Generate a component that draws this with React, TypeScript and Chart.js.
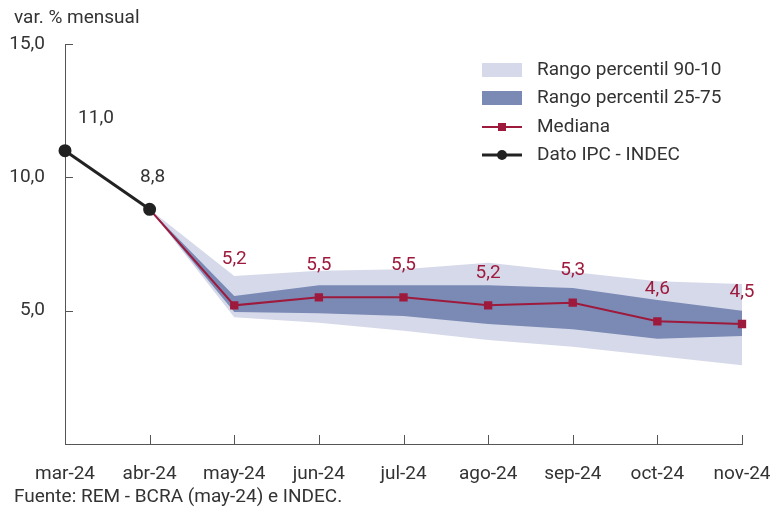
import React, { useEffect, useRef } from "react";
import { Chart, registerables } from "chart.js";

Chart.register(...registerables);

const categories = ["mar-24", "abr-24", "may-24", "jun-24", "jul-24", "ago-24", "sep-24", "oct-24", "nov-24"];
const datoIPC: (number | null)[] = [11.0, 8.8, null, null, null, null, null, null, null];
const mediana: (number | null)[] = [null, 8.8, 5.2, 5.5, 5.5, 5.2, 5.3, 4.6, 4.5];
const p90: (number | null)[] = [null, 8.8, 6.3, 6.5, 6.55, 6.8, 6.45, 6.1, 6.0];
const p75: (number | null)[] = [null, 8.8, 5.55, 5.95, 5.95, 5.95, 5.85, 5.4, 5.0];
const p25: (number | null)[] = [null, 8.8, 4.95, 4.9, 4.8, 4.5, 4.3, 3.95, 4.05];
const p10: (number | null)[] = [null, 8.8, 4.75, 4.55, 4.25, 3.9, 3.65, 3.3, 2.95];
const yTicks = [5, 10, 15];

const titleText = "var. % mensual";
const sourceText = "Fuente: REM - BCRA (may-24) e INDEC.";
const legendLabels = ["Rango percentil 90-10", "Rango percentil 25-75", "Mediana", "Dato IPC - INDEC"];

const RED = "#9e1a3c";
const DARK_BAND = "#7a8ab4";
const LIGHT_BAND = "#d6d9e9";
const TEXT = "#333333";
const AXIS = "#555555";
const FONT = "Roboto";
const FS = 19;

const fmt = (v: number) => v.toFixed(1).replace(".", ",");

const overlayPlugin = {
  id: "overlay",
  afterDraw(chart: any) {
    const ctx = chart.ctx;
    const area = chart.chartArea;
    const xs = chart.scales.x;
    const ys = chart.scales.y;
    ctx.save();
    // inward ticks
    ctx.strokeStyle = AXIS;
    ctx.lineWidth = 1;
    ctx.beginPath();
    yTicks.forEach((t) => {
      const y = Math.round(ys.getPixelForValue(t)) + 0.5;
      ctx.moveTo(area.left, y);
      ctx.lineTo(area.left + 8, y);
    });
    categories.forEach((_, i) => {
      if (i === 0) return;
      const x = Math.round(xs.getPixelForValue(i)) + 0.5;
      ctx.moveTo(x, area.bottom);
      ctx.lineTo(x, area.bottom - 9);
    });
    ctx.stroke();

    // title & source
    ctx.font = `${FS}px ${FONT}`;
    ctx.fillStyle = TEXT;
    ctx.textAlign = "left";
    ctx.textBaseline = "middle";
    ctx.fillText(titleText, 14, 18);
    ctx.fillText(sourceText, 14, 497);

    // data labels
    ctx.textAlign = "center";
    const metaIPC = chart.getDatasetMeta(0);
    datoIPC.forEach((v, i) => {
      if (v == null) return;
      const el = metaIPC.data[i];
      const dx = i === 0 ? 31 : 3;
      ctx.fillStyle = TEXT;
      ctx.fillText(fmt(v), el.x + dx, el.y - 32);
    });
    const metaMed = chart.getDatasetMeta(1);
    mediana.forEach((v, i) => {
      if (v == null || i < 2) return;
      const el = metaMed.data[i];
      const dy = i === 2 ? 46 : 32;
      ctx.fillStyle = RED;
      ctx.fillText(fmt(v), el.x, el.y - dy);
    });

    // legend
    const lx = 482;
    const tx = 537;
    const rows = [70, 98, 127, 155];
    ctx.textAlign = "left";
    ctx.fillStyle = LIGHT_BAND;
    ctx.fillRect(lx, rows[0] - 7, 40, 14);
    ctx.fillStyle = DARK_BAND;
    ctx.fillRect(lx, rows[1] - 7, 40, 14);
    ctx.strokeStyle = RED;
    ctx.lineWidth = 2;
    ctx.beginPath();
    ctx.moveTo(lx, rows[2]);
    ctx.lineTo(lx + 40, rows[2]);
    ctx.stroke();
    ctx.fillStyle = RED;
    ctx.fillRect(lx + 20 - 4, rows[2] - 4, 8, 8);
    ctx.strokeStyle = "#222";
    ctx.lineWidth = 3;
    ctx.beginPath();
    ctx.moveTo(lx, rows[3]);
    ctx.lineTo(lx + 40, rows[3]);
    ctx.stroke();
    ctx.fillStyle = "#222";
    ctx.beginPath();
    ctx.arc(lx + 20, rows[3], 5, 0, Math.PI * 2);
    ctx.fill();
    ctx.fillStyle = TEXT;
    legendLabels.forEach((l, i) => ctx.fillText(l, tx, rows[i]));
    ctx.restore();
  },
};

export default function App() {
  const ref = useRef<HTMLCanvasElement>(null);
  useEffect(() => {
    if (!ref.current) return;
    Chart.defaults.font.family = FONT;
    const chart = new Chart(ref.current, {
      type: "line",
      data: {
        labels: categories,
        datasets: [
          {
            label: "Dato IPC - INDEC",
            data: datoIPC,
            borderColor: "#222",
            backgroundColor: "#222",
            borderWidth: 3,
            pointRadius: 5,
            pointStyle: "circle",
            order: 0,
            spanGaps: false,
          },
          {
            label: "Mediana",
            data: mediana,
            borderColor: RED,
            backgroundColor: RED,
            borderWidth: 2,
            pointRadius: 4.5,
            pointStyle: "rect",
            order: 1,
          },
          {
            label: "p75",
            data: p75,
            borderWidth: 0,
            pointRadius: 0,
            backgroundColor: DARK_BAND,
            fill: "+1",
            order: 2,
          },
          {
            label: "p25",
            data: p25,
            borderWidth: 0,
            pointRadius: 0,
            backgroundColor: DARK_BAND,
            fill: false,
            order: 3,
          },
          {
            label: "p90",
            data: p90,
            borderWidth: 0,
            pointRadius: 0,
            backgroundColor: LIGHT_BAND,
            fill: "+1",
            order: 4,
          },
          {
            label: "p10",
            data: p10,
            borderWidth: 0,
            pointRadius: 0,
            backgroundColor: LIGHT_BAND,
            fill: false,
            order: 5,
          },
        ] as any,
      },
      options: {
        animation: false,
        responsive: false,
        devicePixelRatio: 1,
        layout: { padding: { left: 0, top: 44, right: 31, bottom: 0 } },
        plugins: {
          legend: { display: false },
          tooltip: { enabled: false },
          title: { display: false },
        },
        elements: { line: { tension: 0 } },
        scales: {
          x: {
            type: "category",
            offset: false,
            grid: { display: false, drawTicks: false },
            border: { display: true, color: AXIS, width: 1 },
            ticks: { color: TEXT, font: { size: FS, family: FONT }, padding: 19, maxRotation: 0, autoSkip: false },
            afterFit: (s: any) => {
              s.height = 67;
              s.paddingLeft = 0;
              s.paddingRight = 0;
            },
          },
          y: {
            min: 0,
            max: 15,
            grid: { display: false, drawTicks: false },
            border: { display: true, color: AXIS, width: 1 },
            ticks: {
              stepSize: 5,
              color: TEXT,
              font: { size: FS, family: FONT },
              padding: 20,
              callback: (v: any) => (v === 0 ? "" : fmt(Number(v))),
            },
            afterFit: (s: any) => {
              s.width = 65;
              s.paddingTop = 0;
              s.paddingBottom = 0;
            },
          },
        },
      } as any,
      plugins: [overlayPlugin],
    });
    return () => chart.destroy();
  }, []);
  return (
    <div style={{ position: "absolute", left: 0, top: 0, width: 773, height: 511, background: "#fff" }}>
      <canvas ref={ref} width={773} height={511} style={{ width: 773, height: 511 }} />
    </div>
  );
}
